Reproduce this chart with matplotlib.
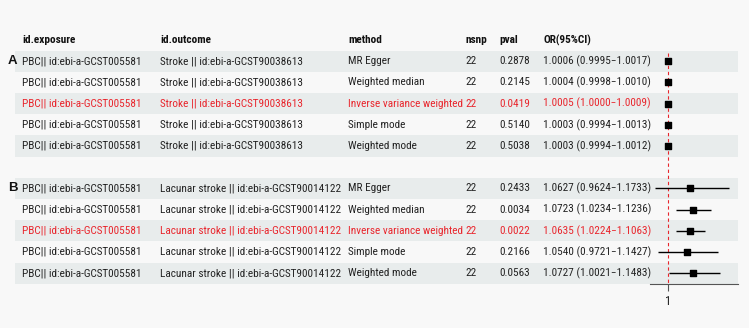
import numpy as np
import matplotlib
matplotlib.use('Agg')
import matplotlib.pyplot as plt

# ── data ──────────────────────────────────────────────────────────────
exposure = ['PBC|| id:ebi-a-GCST005581'] * 10
outcome = (['Stroke || id:ebi-a-GCST90038613'] * 5
           + ['Lacunar stroke || id:ebi-a-GCST90014122'] * 5)
methods = ['MR Egger', 'Weighted median', 'Inverse variance weighted',
           'Simple mode', 'Weighted mode'] * 2
nsnp = [22] * 10
pval = ['0.2878', '0.2145', '0.0419', '0.5140', '0.5038',
        '0.2433', '0.0034', '0.0022', '0.2166', '0.0563']
or_est = [1.0006, 1.0004, 1.0005, 1.0003, 1.0003,
          1.0627, 1.0723, 1.0635, 1.0540, 1.0727]
or_lo = [0.9995, 0.9998, 1.0000, 0.9994, 0.9994,
         0.9624, 1.0234, 1.0224, 0.9721, 1.0021]
or_hi = [1.0017, 1.0010, 1.0009, 1.0013, 1.0012,
         1.1733, 1.1236, 1.1063, 1.1427, 1.1483]
highlight = [False, False, True, False, False] * 2
panels = ['A', 'B']
headers = ['id.exposure', 'id.outcome', 'method', 'nsnp', 'pval', 'OR(95%CI)']

# ── layout ────────────────────────────────────────────────────────────
W, H = 749, 328
BG = '#F8F8F8'
STRIPE = '#E8ECEC'
RED = '#E8262D'
FONT = 'Roboto Condensed'
FS = 8.1

rows = [1, 2, 3, 4, 5, 7, 8, 9, 10, 11]   # row index; 0 = header
y0, dy = 40, 21.2                          # pixel centre of header, row height
top_idx = -y0 / dy
bot_idx = (H - y0) / dy
col_x = [22, 160, 348, 465, 499, 543]

fig = plt.figure(figsize=(W / 100, H / 100), dpi=100, facecolor=BG)
ax = fig.add_axes([0, 0, 1, 1], facecolor=BG)
ax.set_xlim(0, W)
ax.set_ylim(bot_idx, top_idx)
ax.axis('off')

# stripes
for k, r in enumerate(rows):
    if k % 5 in (0, 2, 4):
        ax.fill_between([15, 738], r - 0.5, r + 0.5, color=STRIPE, lw=0, zorder=0)

# header
for x, h in zip(col_x, headers):
    ax.text(x, 0, h, fontsize=FS, fontweight='bold', family=FONT,
            va='center', ha='left', color='#111111')

# panel letters
for r, p in zip([1, 7], panels):
    ax.text(8, r, p, fontsize=9.5, fontweight='bold', family='Liberation Sans',
            va='center', ha='left', color='#111111')

# table body
for i, r in enumerate(rows):
    c = RED if highlight[i] else '#222222'
    vals = [exposure[i], outcome[i], methods[i], str(nsnp[i]), pval[i],
            f'{or_est[i]:.4f} ({or_lo[i]:.4f}\u2212{or_hi[i]:.4f})']
    for x, v in zip(col_x, vals):
        ax.text(x, r, v, fontsize=FS, family=FONT, va='center', ha='left', color=c)

# ── forest panel ──────────────────────────────────────────────────────
axis_px = 284
fx0, fx1 = 650, 738
axf = fig.add_axes([fx0 / W, (H - axis_px) / H, (fx1 - fx0) / W, axis_px / H])
axf.set_facecolor('none')
axf.set_xlim(0.949, 1.2)
axf.set_ylim((axis_px - y0) / dy, top_idx)
for s in ['top', 'right', 'left']:
    axf.spines[s].set_visible(False)
axf.spines['bottom'].set_color('#555555')
axf.spines['bottom'].set_linewidth(0.8)
axf.set_yticks([])
axf.set_xticks([1])
axf.set_xticklabels(['1'], fontsize=9, family=FONT, color='#222222')
axf.tick_params(axis='x', length=5, width=0.8, color='#555555', pad=3)

axf.plot([1, 1], [0.6, (axis_px - y0) / dy], ls=(0, (3, 2.5)), color=RED, lw=0.8, zorder=1)
axf.hlines(rows, or_lo, or_hi, color='black', lw=1.0, zorder=2)
axf.scatter(or_est, rows, marker='s', s=14, color='black', zorder=3)

fig.savefig('out.png', dpi=100, facecolor=BG)
